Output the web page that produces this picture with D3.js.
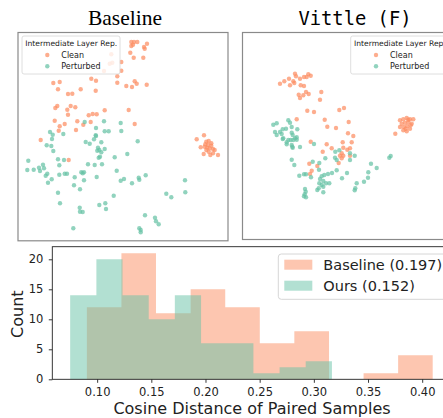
<!DOCTYPE html>
<html>
<head>
<meta charset="utf-8">
<script src="https://cdn.jsdelivr.net/npm/d3@7"></script>
<style>
  body { margin: 0; background: #fff; }
  svg { display: block; }
</style>
</head>
<body>
<div class="figure"></div>
<script>
// t-SNE embeddings (arbitrary units)
const baselineClean = [
  [113.3,10],[116,10],[119.3,10],[115,12.7],[113.3,14],[126,15],[129,11.7],[126.7,16.7],[112.3,20.7],
  [115.7,25.7],[125.3,25.7],[93.3,22.3],[94.3,30.7],[91.7,31.7],[86,39],[103.3,30],[103.3,38.7],
  [99.3,44.3],[99.3,50.7],[108.3,54],[114,55],[116.7,49.3],[118.7,51.7],[128.7,52.7],[35.3,51],
  [41.7,50],[40,57.3],[50,62],[54.3,61.7],[62.7,57.3],[73.3,46.7],[78,48.7],[77.7,58.7],[39.3,74],
  [37.3,76],[52.7,74],[57.3,75.3],[49.3,77.7],[50,82.7],[70.7,83.3],[74.7,82],[78.7,82.3],[86.7,78.3],
  [110.7,78],[36.7,88.7],[46.7,92],[41.7,94.3],[40.7,98.7],[59.3,89.3],[65.3,92.7],[72.7,90],[58,98],
  [116.7,92],[22.7,108],[50.7,128],
  [186,103.3],[178.7,107.3],[188.3,109.7],[190.7,109],[193.3,111.3],[190,113],[186.7,114.7],
  [182.7,115.3],[191.7,116.3],[195,117],[196.7,118],[188.3,118],[190.7,119.7],[185.7,122],
  [192.3,123],[200,123],[195,121.3],[187.3,112.3],[189.3,115.7],[193.3,113.7]
];
const baselinePerturbed = [
  [66.7,90],[86,89.3],[102.7,91],[32,100],[34.7,102.7],[45.3,102],[78,96],[77.7,103.3],[86.7,99.3],
  [90.7,99.3],[103.3,99],[34,107],[28.7,113.3],[33.3,114],[35.3,119],[10.3,128.7],[9.3,138],
  [15.7,137.7],[21,135.7],[25,132.7],[26,136.3],[22,139],[29.3,141.7],[27.7,143.7],[30,150.7],
  [33.7,147.3],[40,127.3],[41.3,133.3],[46,128],[41.3,142.7],[46.7,141.7],[49,141.7],[56.7,145.3],
  [56,153.3],[62,157.3],[63.3,140.3],[66,140.3],[64.7,141.3],[66,148.3],[70,132.3],[76.7,133],
  [84,132.3],[78.7,145],[67.7,110],[71.7,111.7],[76,107.3],[78,104],[83.3,110.3],[80,115.7],
  [81.3,118],[79.3,118.7],[86.7,117],[83.3,120.3],[82,124.7],[80.7,125.7],[96.7,125.3],[109.3,122],
  [98.7,138.7],[102.7,148.7],[106,147],[114,151.3],[120.7,145.7],[121.3,147.7],[127.7,143.3],
  [119.7,109.3],[95.7,163.7],[81.3,173],[87.3,171.3],[88,177],[61.7,175.7],[62,179.7],[64.7,180],
  [40,160.7],[42,171.3],[55.3,196.3],[127,183.3],[137,185.7],[138,189.3],[140.7,192.3],[121.3,196.3],
  [122.7,198],[122.7,200.3],[148.3,161.7],[153.3,165.3],[167,148.3],[167.3,160.3]
];
const vittleClean = [
  [40,51.7],[44.3,49.3],[49,46.7],[53.3,49.3],[54.3,51],[50,53.3],[55,41.7],[56,44.3],[60,46.7],
  [64,45],[68.3,42.3],[70.7,43.7],[66.7,45],[60.7,53.3],[64,54],[66,60],[68.7,62],[58.7,62.7],
  [60,66],[63.3,63.3],[81.3,60],[80,67.7],[67.3,78.7],[74,80],[99.3,78],[104,76],[56.7,87.3],
  [84.7,87.7],[87.3,94.7],[96,96],[108.7,90],[108,101.3],[113.3,104],
  [160,88.3],[163.3,87.3],[166.7,86],[170,87.3],[173.3,87.3],[161.7,91.7],[165,90.7],[168.3,90],
  [171.7,91.7],[160,95],[164,95],[167.3,94],[170.7,93.3],[163.3,98.3],[166.7,99.3],[170,96.7],
  [165.7,96.7],[155.3,101.7],[168.3,87.7],
  [70.7,109.7],[86.7,112.3],[102.7,110.3],[111.7,110.3],[91.7,116.3],[82.7,119.7],[103.3,115.7],
  [107.3,117.7],[110,116.3],[101.7,121.3],[100,123.7],[103.3,123.7],[101.7,126.3],[98.7,131],
  [110,123.7],[69.3,131.7],[77.3,134],[71.7,138.7],[70,142]
];
const vittlePerturbed = [
  [33.3,92.7],[36.7,91.3],[35,100],[40,100],[42.7,97.3],[46,96.7],[48.3,88.3],[50,90.7],[51.7,95],
  [57.3,97.3],[51.7,100.7],[41.7,102],[36.7,103],[42.7,107],[46.7,110.3],[46.7,112.3],[51.7,113],
  [52.7,115.7],[50.7,108],[55,106.3],[56.7,107.7],[60,115],[52.7,103],[43.3,106.3],[48.3,108],
  [53.3,108],[56.7,105.3],[52.3,114.7],[51.7,127.7],[54.3,133],[72.7,129.7],[79.3,131],[79,137.7],
  [74,112],[85.3,126.3],[95.3,119.7],[99.3,118.3],[95,125.7],[96.7,128],[110,128],[114.7,123.7],
  [110,121.3],[59.3,143.7],[64,142.3],[66,142.3],[71,145.3],[81.7,144.3],[84.3,143],[88,142],
  [92,141],[96.7,138.3],[107,141],[102,146.3],[80,147],[83.3,149],[79.3,151.3],[81.7,153],
  [78.7,156.3],[83.3,154.7],[86,151.3],[89.3,151.3],[77.3,158],[83.3,160.3],[65,157],[65.7,159.7],
  [64,164.3],[66,165.3],[64.7,162.3],[116.7,151.3],[115.3,156.3],[114.7,158.3],[124,149.7],
  [128,145.7],[128.3,140.3],[131,131.7],[136.7,136],[149.3,125.7],[150.7,124]
];

// histogram of cosine distances
const baselineEdges = [0.0905, 0.1224, 0.1543, 0.1863, 0.2182, 0.2501, 0.2820, 0.3140, 0.3459, 0.3778, 0.4097];
const baselineCounts = [12, 21, 11, 15, 12, 6, 8, 0, 1, 4];
const oursEdges = [0.0751, 0.0993, 0.1234, 0.1476, 0.1717, 0.1959, 0.2201, 0.2442, 0.2684, 0.2925, 0.3167];
const oursCounts = [14, 20, 14, 10, 14, 6, 6, 1, 2, 3];
const xTicks = [0.10, 0.15, 0.20, 0.25, 0.30, 0.35, 0.40];
const yTicks = [0, 5, 10, 15, 20];
const histLabels = ["Baseline (0.197)", "Ours (0.152)"];
const legendLabels = ["Clean", "Perturbed"];

const width = 443;
const height = 418;
const orange = "#fc8d62";
const green = "#66c2a5";

const svg = d3
  .select(".figure")
  .append("svg")
  .attr("width", width)
  .attr("height", height);

// ---- scatter panels ----
const panels = [
  { title: "Baseline", font: "'Liberation Serif', 'Times New Roman', serif", size: 21.5, tx: 125,
    ox: 18, box: [18, 32.5, 210, 208.3], legendX: 22, clean: baselineClean, pert: baselinePerturbed },
  { title: "Vittle (F)", font: "'DejaVu Sans Mono', monospace", size: 18.8, tx: 355,
    ox: 240, box: [242.5, 32.5, 212, 207], legendX: 350.7, clean: vittleClean, pert: vittlePerturbed }
];

panels.forEach(p => {
  const x = d3.scaleLinear().domain([0, 210]).range([p.ox, p.ox + 210]);
  const y = d3.scaleLinear().domain([0, 209]).range([32, 241]);
  const g = svg.append("g");

  g.append("text")
    .attr("x", p.tx)
    .attr("y", 25)
    .attr("text-anchor", "middle")
    .style("font-family", p.font)
    .style("font-size", p.size + "px")
    .style("fill", "#000")
    .text(p.title);

  g.append("rect")
    .attr("x", p.box[0])
    .attr("y", p.box[1])
    .attr("width", p.box[2])
    .attr("height", p.box[3])
    .style("fill", "none")
    .style("stroke", "#8a8a8a")
    .style("stroke-width", 1.2);

  [[p.clean, orange], [p.pert, green]].forEach(([pts, c]) => {
    g.selectAll(null)
      .data(pts)
      .enter()
      .append("circle")
      .attr("cx", d => x(d[0]))
      .attr("cy", d => y(d[1]))
      .attr("r", 2.2)
      .style("fill", c)
      .style("opacity", 0.72);
  });

  // legend
  const lg = g.append("g").attr("transform", `translate(${p.legendX},36)`);
  lg.append("rect")
    .attr("width", 98)
    .attr("height", 38)
    .attr("rx", 2)
    .style("fill", "#fff")
    .style("fill-opacity", 0.8)
    .style("stroke", "#d6d6d6")
    .style("stroke-width", 0.8);
  lg.append("text")
    .attr("x", 3.3)
    .attr("y", 10)
    .style("font-family", "'DejaVu Sans', sans-serif")
    .style("font-size", "7.6px")
    .style("fill", "#222")
    .text("Intermediate Layer Rep.");
  legendLabels.forEach((lab, i) => {
    lg.append("circle")
      .attr("cx", 25.3)
      .attr("cy", 19 + i * 11.2)
      .attr("r", 2.2)
      .style("fill", i === 0 ? orange : green)
      .style("opacity", 0.72);
    lg.append("text")
      .attr("x", 39.3)
      .attr("y", 22 + i * 11.2)
      .style("font-family", "'DejaVu Sans', sans-serif")
      .style("font-size", "8px")
      .style("fill", "#222")
      .text(lab);
  });
});

// ---- histogram ----
const hx = d3.scaleLinear().domain([0.0586, 0.4265]).range([52.3, 450.9]);
const hy = d3.scaleLinear().domain([0, 22.1]).range([379.3, 246.7]);

const area = d3
  .area()
  .curve(d3.curveStepAfter)
  .x(d => hx(d[0]))
  .y0(hy(0))
  .y1(d => hy(d[1]));

const stepPoints = (edges, counts) =>
  edges.map((e, i) => [e, counts[Math.min(i, counts.length - 1)]]);

svg.append("path")
  .attr("d", area(stepPoints(baselineEdges, baselineCounts)))
  .style("fill", orange)
  .style("fill-opacity", 0.5);
svg.append("path")
  .attr("d", area(stepPoints(oursEdges, oursCounts)))
  .style("fill", green)
  .style("fill-opacity", 0.5);

const xAxis = svg
  .append("g")
  .attr("transform", "translate(0,379.3)")
  .call(d3.axisBottom(hx).tickValues(xTicks).tickFormat(d3.format(".2f")).tickSize(3.5).tickPadding(5.5));
const yAxis = svg
  .append("g")
  .attr("transform", "translate(52.3,0)")
  .call(d3.axisLeft(hy).tickValues(yTicks).tickSize(3.5).tickPadding(5.5));

[xAxis, yAxis].forEach(a => {
  a.select(".domain").remove();
  a.selectAll("line").style("stroke", "#222").style("stroke-width", 0.9);
  a.selectAll("text")
    .style("font-family", "'DejaVu Sans', sans-serif")
    .style("font-size", "11.5px")
    .style("fill", "#222");
});

svg.append("rect")
  .attr("x", 52.3)
  .attr("y", 246.7)
  .attr("width", 450.9 - 52.3)
  .attr("height", 379.3 - 246.7)
  .style("fill", "none")
  .style("stroke", "#222")
  .style("stroke-width", 0.9);

svg.append("text")
  .attr("x", 252)
  .attr("y", 414)
  .attr("text-anchor", "middle")
  .style("font-family", "'DejaVu Sans', sans-serif")
  .style("font-size", "16px")
  .style("fill", "#222")
  .text("Cosine Distance of Paired Samples");

svg.append("text")
  .attr("transform", "translate(23.3,314.2) rotate(-90)")
  .attr("text-anchor", "middle")
  .style("font-family", "'DejaVu Sans', sans-serif")
  .style("font-size", "16px")
  .style("fill", "#222")
  .text("Count");

const hl = svg.append("g").attr("transform", "translate(278.3,254)");
hl.append("rect")
  .attr("width", 180)
  .attr("height", 45.3)
  .attr("rx", 3)
  .style("fill", "#fff")
  .style("fill-opacity", 0.8)
  .style("stroke", "#d6d6d6")
  .style("stroke-width", 1);
histLabels.forEach((lab, i) => {
  hl.append("rect")
    .attr("x", 6)
    .attr("y", 5.7 + i * 21)
    .attr("width", 28)
    .attr("height", 10)
    .style("fill", i === 0 ? orange : green)
    .style("fill-opacity", 0.5);
  hl.append("text")
    .attr("x", 45)
    .attr("y", 16.3 + i * 21)
    .style("font-family", "'DejaVu Sans', sans-serif")
    .style("font-size", "14.5px")
    .style("fill", "#222")
    .text(lab);
});
</script>
</body>
</html>
